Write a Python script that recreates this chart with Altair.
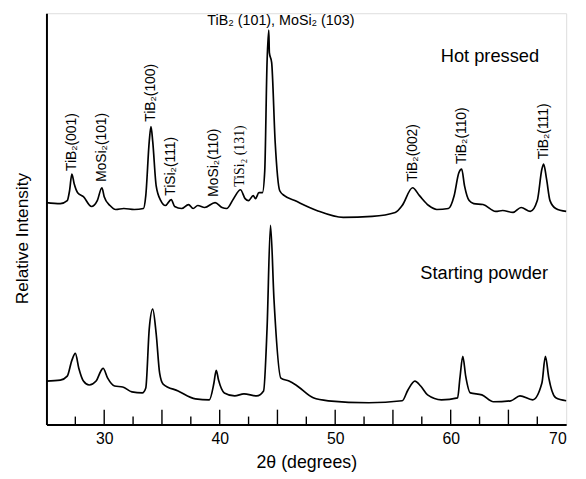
import altair as alt
import pandas as pd

# Hot pressed pattern (2theta, relative intensity in arbitrary units)
hp_2theta = [25.0, 26.2, 26.8, 27.0, 27.2, 27.4, 27.7, 28.2, 28.9, 29.4, 29.8, 30.0, 30.5, 31.0,
             31.7, 32.6, 33.4, 33.6, 33.9, 34.05, 34.2, 34.5, 34.9, 35.3, 35.8, 36.1, 36.7, 37.3,
             37.7, 38.1, 38.7, 39.6, 40.2, 40.6, 41.2, 41.8, 42.2, 42.5, 42.9, 43.1, 43.4, 43.7,
             43.9, 44.1, 44.25, 44.3, 44.5, 44.8, 45.2, 45.6, 46.5, 48.4, 50.7, 53.2, 55.2, 55.8,
             56.7, 57.3, 58.1, 58.8, 59.8, 60.3, 60.7, 60.95, 61.2, 61.6, 62.0, 62.8, 63.9, 64.5,
             65.4, 66.1, 66.9, 67.5, 67.9, 68.05, 68.3, 68.6, 69.1, 70.0]
hp_intensity = [225, 224, 227, 237, 254, 244, 235, 231, 221, 227, 240, 231, 222, 218,
                219, 218, 219, 232, 287, 302, 287, 242, 227, 222, 228, 221, 219, 223,
                219, 222, 220, 225, 220, 219, 229, 238, 229, 227, 232, 229, 235, 235,
                257, 367, 400, 377, 367, 287, 237, 232, 227, 217, 210, 211, 215, 222,
                240, 232, 222, 218, 219, 232, 255, 259, 242, 227, 224, 223, 216, 217,
                215, 220, 216, 227, 259, 264, 249, 227, 219, 216]

# Starting powder pattern
sp_2theta = [25.0, 26.2, 26.8, 27.2, 27.5, 27.8, 28.2, 28.7, 29.3, 29.7, 29.9, 30.3, 30.9, 31.6,
             32.4, 33.3, 33.6, 33.9, 34.2, 34.5, 34.8, 35.1, 36.4, 37.9, 39.1, 39.5, 39.7, 39.9,
             40.4, 41.3, 42.1, 43.2, 43.8, 44.1, 44.4, 44.7, 45.3, 46.0, 46.6, 48.1, 49.4, 52.9,
             55.8, 56.3, 56.9, 57.4, 58.0, 59.2, 60.6, 60.8, 61.05, 61.3, 61.7, 62.7, 63.7, 65.2,
             66.0, 67.1, 67.9, 68.2, 68.5, 69.1, 70.0]
sp_intensity = [44, 45, 49, 65, 72, 57, 44, 40, 44, 54, 57, 47, 39, 38,
                33, 32, 37, 97, 117, 92, 52, 41, 34, 26, 25, 42, 55, 45,
                32, 29, 31, 29, 34, 97, 202, 127, 47, 44, 40, 27, 24, 22,
                24, 35, 44, 39, 30, 25, 27, 47, 69, 49, 32, 30, 23, 24,
                29, 25, 42, 69, 47, 27, 24]

# Peak labels (rotated)
peak_labels = ["TiB₂(001)", "MoSi₂(101)", "TiB₂(100)", "TiSi₂(111)", "MoSi₂(110)",
               "TiB₂(002)", "TiB₂(110)", "TiB₂(111)"]
peak_2theta = [27.2, 29.8, 34.05, 35.8, 39.5, 56.7, 60.95, 68.05]
peak_level = [254, 243, 304, 229, 228, 243, 261, 266]

serif_label = ["TiSi₂ (131)"]
serif_2theta = [41.8]
serif_level = [238]

top_label = ["TiB₂ (101), MoSi₂ (103)"]
top_2theta = [45.3]
top_level = [409]

series_names = ["Hot pressed", "Starting powder"]
series_2theta = [63.4, 62.9]
series_level = [374, 154]

tick_values = [27.5, 30, 32.5, 35, 37.5, 40, 42.5, 45, 47.5, 50, 52.5, 55, 57.5,
               60, 62.5, 65, 67.5]
label_values = [30, 40, 50, 60, 70]

df = pd.concat([
    pd.DataFrame({"t": hp_2theta, "I": hp_intensity, "s": "Hot pressed"}),
    pd.DataFrame({"t": sp_2theta, "I": sp_intensity, "s": "Starting powder"}),
])
peaks = pd.DataFrame({"label": peak_labels, "t": peak_2theta, "I": peak_level})
serif_df = pd.DataFrame({"label": serif_label, "t": serif_2theta, "I": serif_level})
top_df = pd.DataFrame({"label": top_label, "t": top_2theta, "I": top_level})
names_df = pd.DataFrame({"label": series_names, "t": series_2theta, "I": series_level})
ticks_df = pd.DataFrame({"t": tick_values, "major": [v % 5 == 0 for v in tick_values]})

xscale = alt.Scale(domain=[25, 70], nice=False, zero=False)
yscale = alt.Scale(domain=[0, 417], nice=False, zero=False)

xaxis = alt.Axis(values=label_values, format="d", ticks=False, grid=False,
                 labelFontSize=16, labelPadding=6, labelColor="black",
                 title="2θ (degrees)", titleFontSize=18, titleFontWeight="normal",
                 titlePadding=8, titleColor="black",
                 domainColor="black", domainWidth=2)
yaxis = alt.Axis(labels=False, ticks=False, grid=False,
                 title="Relative Intensity", titleFontSize=17.5, titleFontWeight="normal",
                 titlePadding=15, titleColor="black", titleY=228,
                 domainColor="black", domainWidth=2)

lines = alt.Chart(df).mark_line(color="black", strokeWidth=1.7, interpolate="monotone").encode(
    x=alt.X("t:Q", scale=xscale, axis=xaxis),
    y=alt.Y("I:Q", scale=yscale, axis=yaxis),
    detail="s:N",
)

peak_text = alt.Chart(peaks).mark_text(angle=270, align="left", baseline="middle",
                                       fontSize=14, font="Liberation Sans", dx=3,
                                       color="black").encode(
    x=alt.X("t:Q", scale=xscale), y=alt.Y("I:Q", scale=yscale), text="label:N")

serif_text = alt.Chart(serif_df).mark_text(angle=270, align="left", baseline="middle",
                                           fontSize=14, font="Liberation Serif", dx=3,
                                           color="black").encode(
    x=alt.X("t:Q", scale=xscale), y=alt.Y("I:Q", scale=yscale), text="label:N")

top_text = alt.Chart(top_df).mark_text(align="center", baseline="middle",
                                       fontSize=14.5, font="Liberation Sans",
                                       color="black").encode(
    x=alt.X("t:Q", scale=xscale), y=alt.Y("I:Q", scale=yscale), text="label:N")

names_text = alt.Chart(names_df).mark_text(align="center", baseline="middle",
                                           fontSize=18.5, font="Liberation Sans",
                                           color="black").encode(
    x=alt.X("t:Q", scale=xscale), y=alt.Y("I:Q", scale=yscale), text="label:N")

major_ticks = alt.Chart(ticks_df).transform_filter("datum.major").mark_rule(
    color="black", strokeWidth=1.4).encode(
    x=alt.X("t:Q", scale=xscale), y=alt.value(417), y2=alt.value(402))

minor_ticks = alt.Chart(ticks_df).transform_filter("!datum.major").mark_rule(
    color="black", strokeWidth=1.4).encode(
    x=alt.X("t:Q", scale=xscale), y=alt.value(417), y2=alt.value(409))

chart = alt.layer(lines, major_ticks, minor_ticks, peak_text, serif_text, top_text,
                  names_text).properties(
    width=527, height=417,
    autosize=alt.AutoSizeParams(type="none"),
    padding={"left": 39, "top": 2, "right": 12, "bottom": 52},
).configure_view(stroke="black", strokeWidth=1.3).configure_axis(
    labelFont="Liberation Sans", titleFont="Liberation Sans"
).configure(background="white")

chart.save("out.html", embed_options={"renderer": "svg", "actions": False})
